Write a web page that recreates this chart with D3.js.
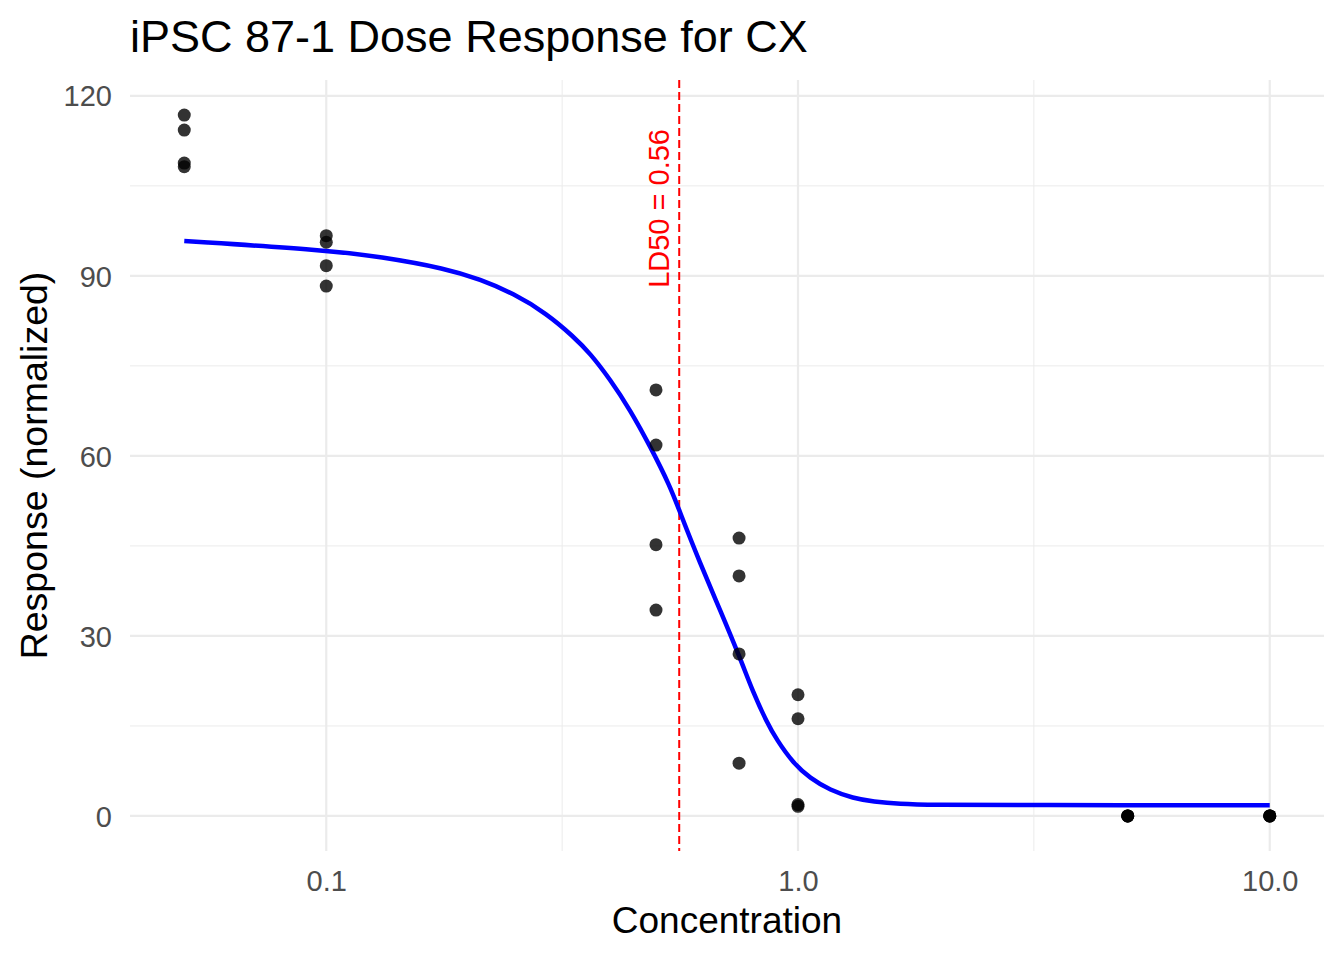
<!DOCTYPE html>
<html>
<head>
<meta charset="utf-8">
<script src="https://cdn.jsdelivr.net/npm/d3@7"></script>
<style>
  body { margin: 0; background: #fff; }
  text { font-family: "Liberation Sans", Arial, sans-serif; }
</style>
</head>
<body>
<svg id="chart" width="1344" height="960"></svg>
<script>
// observed responses
const doses = [0.05, 0.05, 0.05, 0.05, 0.1, 0.1, 0.1, 0.1, 0.5, 0.5, 0.5, 0.5,
  0.75, 0.75, 0.75, 0.75, 1, 1, 1, 1, 5, 5, 5, 5, 10, 10, 10, 10];
const responses = [116.8, 114.3, 108.8, 108.2, 96.7, 95.6, 91.7, 88.3, 71, 61.8, 45.2, 34.3,
  46.3, 40, 27, 8.8, 20.2, 16.2, 1.9, 1.6, 0, 0, 0, 0, 0, 0, 0, 0];

// fitted curve
const fitDose = [0.05, 0.1, 0.130, 0.180, 0.212, 0.249, 0.2935, 0.334, 0.3625, 0.40, 0.4405,
  0.486, 0.536, 0.562, 0.62, 0.684, 0.754, 0.804, 0.858, 0.901, 0.977, 1.06, 1.169, 1.31,
  1.444, 1.645, 1.9, 3, 10];
const fitResp = [95.8, 94.3, 93.2, 91.2, 89.4, 87.1, 83.7, 79.9, 77.1, 72.7, 67.7,
  61.6, 54.9, 50.6, 42.1, 34.3, 26.3, 20.5, 15.7, 12.7, 8.8, 6.3, 4.3, 2.95,
  2.4, 2.0, 1.85, 1.8, 1.8];

const ld50 = 0.56;
const xTicks = [0.1, 1, 10];
const xMinor = [Math.pow(10, -0.5), Math.pow(10, 0.5)];
const yTicks = [0, 30, 60, 90, 120];
const yMinor = [15, 45, 75, 105];

const svg = d3.select('#chart');
const pLeft = 130, pRight = 1324, pTop = 80, pBottom = 851;

// ggplot-style 5% expansion on log10 scale
const lx = [Math.log10(0.05), Math.log10(10)];
const ex = (lx[1] - lx[0]) * 0.05;
const x = d3.scaleLog()
  .domain([Math.pow(10, lx[0] - ex), Math.pow(10, lx[1] + ex)])
  .range([pLeft, pRight]);
const ymax = d3.max(responses);
const y = d3.scaleLinear()
  .domain([-ymax * 0.05, ymax * 1.05])
  .range([pBottom, pTop]);

const grid = svg.append('g');
grid.selectAll('.xminor').data(xMinor).enter().append('line')
  .attr('x1', d => x(d)).attr('x2', d => x(d))
  .attr('y1', pTop).attr('y2', pBottom)
  .attr('stroke', '#ebebeb').attr('stroke-width', 1);
grid.selectAll('.yminor').data(yMinor).enter().append('line')
  .attr('y1', d => y(d)).attr('y2', d => y(d))
  .attr('x1', pLeft).attr('x2', pRight)
  .attr('stroke', '#ebebeb').attr('stroke-width', 1);
grid.selectAll('.xmajor').data(xTicks).enter().append('line')
  .attr('x1', d => x(d)).attr('x2', d => x(d))
  .attr('y1', pTop).attr('y2', pBottom)
  .attr('stroke', '#ebebeb').attr('stroke-width', 2.2);
grid.selectAll('.ymajor').data(yTicks).enter().append('line')
  .attr('y1', d => y(d)).attr('y2', d => y(d))
  .attr('x1', pLeft).attr('x2', pRight)
  .attr('stroke', '#ebebeb').attr('stroke-width', 2.2);

// axes (text only, like theme_minimal)
const xAxis = svg.append('g')
  .attr('transform', 'translate(0,' + (pBottom + 14) + ')')
  .call(d3.axisBottom(x).tickValues(xTicks).tickFormat(d3.format('.1f')).tickSize(0));
const yAxis = svg.append('g')
  .attr('transform', 'translate(' + (pLeft - 18) + ',0)')
  .call(d3.axisLeft(y).tickValues(yTicks).tickSize(0));
[xAxis, yAxis].forEach(a => {
  a.select('.domain').remove();
  a.selectAll('text')
    .attr('fill', '#4d4d4d')
    .style('font-size', '29px')
    .style('font-family', '"Liberation Sans", Arial, sans-serif');
});
xAxis.selectAll('text').attr('dy', '0.8em');
yAxis.selectAll('text').attr('dy', '0.35em').attr('x', 0);

// LD50 line
svg.append('line')
  .attr('x1', x(ld50)).attr('x2', x(ld50))
  .attr('y1', pTop).attr('y2', pBottom)
  .attr('stroke', '#ff0000').attr('stroke-width', 2)
  .attr('stroke-dasharray', '8,4');
svg.append('text')
  .attr('transform', 'translate(' + (x(ld50) - 10) + ',' + y(88) + ') rotate(-90)')
  .attr('fill', '#ff0000')
  .style('font-size', '29px')
  .text('LD50 = ' + ld50.toFixed(2));

// fitted curve
const fit = fitDose.map((d, i) => [d, fitResp[i]]);
svg.append('path')
  .datum(fit)
  .attr('fill', 'none')
  .attr('stroke', '#0000ff')
  .attr('stroke-width', 4.5)
  .attr('d', d3.line().x(d => x(d[0])).y(d => y(d[1])).curve(d3.curveBasis));

// points
svg.selectAll('.pt').data(doses).enter().append('circle')
  .attr('cx', d => x(d))
  .attr('cy', (d, i) => y(responses[i]))
  .attr('r', 6.5)
  .attr('fill', '#000')
  .attr('fill-opacity', 0.8);

// titles
svg.append('text')
  .attr('x', pLeft).attr('y', 52)
  .style('font-size', '45px')
  .attr('fill', '#000')
  .text('iPSC 87-1 Dose Response for CX');
svg.append('text')
  .attr('x', (pLeft + pRight) / 2).attr('y', 933)
  .attr('text-anchor', 'middle')
  .style('font-size', '37px')
  .text('Concentration');
svg.append('text')
  .attr('transform', 'translate(47,' + ((pTop + pBottom) / 2) + ') rotate(-90)')
  .attr('text-anchor', 'middle')
  .style('font-size', '37.5px')
  .text('Response (normalized)');
</script>
</body>
</html>
